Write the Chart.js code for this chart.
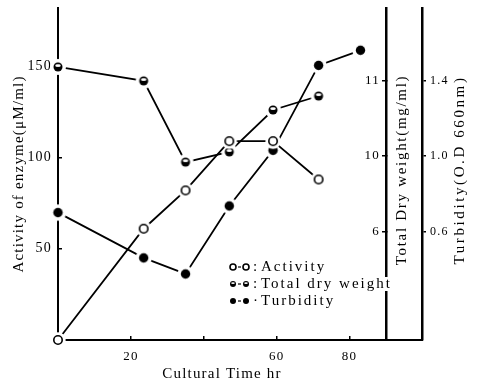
<!DOCTYPE html>
<html>
<head>
<meta charset="utf-8">
<script src="https://cdn.jsdelivr.net/npm/chart.js@4.4.1/dist/chart.umd.min.js"></script>
<style>
  html, body { margin: 0; padding: 0; background: #fff; }
</style>
</head>
<body>
<canvas id="c" width="479" height="384"></canvas>
<script>
// cultural time (hr)
var timeHr = [0, 23.5, 35, 47, 59, 71.5];
var timeHrTurb = [0, 23.5, 35, 47, 59, 71.5, 83];

// activity of enzyme (uM/ml)
var activity = [0, 61, 82, 109, 109, 88];
// total dry weight (mg/ml)
var dryWeight = [12.36, 11.99, 9.84, 10.11, 11.22, 11.59];
// turbidity (O.D 660nm)
var turbidity = [0.70, 0.46, 0.375, 0.735, 1.03, 1.48, 1.56];

var xTicks = [20, 40, 60, 80];
var xTickLabels = ["20", "", "60", "80"];
var enzymeTicks = [50, 100, 150];
var dryTicks = [8, 10, 12];
var dryTickLabels = ["6", "10", "11"];
var turbTicks = [0.6, 1.0, 1.4];
var turbTickLabels = ["0.6", "1.0", "1.4"];

var seriesNames = ["Activity", "Total dry weight", "Turbidity"];

var SERIF = "'Liberation Serif', 'DejaVu Serif', serif";

// marker drawn on a small canvas: white halo so lines stop short of the point
function makeMarker(kind, r, halo) {
    var size = Math.ceil((r + halo) * 2 + 2);
    var c = document.createElement('canvas');
    c.width = size; c.height = size;
    var g = c.getContext('2d');
    var m = size / 2;
    if (halo > 0) {
        g.fillStyle = '#fff';
        g.beginPath(); g.arc(m, m, r + halo, 0, Math.PI * 2); g.fill();
    }
    g.beginPath(); g.arc(m, m, r, 0, Math.PI * 2);
    if (kind === 'open') {
        g.fillStyle = '#fff'; g.fill();
        g.lineWidth = 1.6; g.strokeStyle = '#000'; g.stroke();
    } else {
        g.fillStyle = '#000'; g.fill();
        if (kind === 'half') {
            g.fillStyle = '#fff';
            g.beginPath(); g.ellipse(m, m - r * 0.3, r * 0.62, r * 0.32, 0, 0, Math.PI * 2); g.fill();
        }
    }
    return c;
}

function pts(xs, ys) {
    return xs.map(function (x, i) { return { x: x, y: ys[i] }; });
}

function onlyTicks(list) {
    return function (scale) {
        scale.ticks = list.map(function (v) { return { value: v }; });
    };
}

function labelFrom(values, labels) {
    return function (value) {
        var i = values.indexOf(value);
        return i < 0 ? "" : labels[i];
    };
}

function fixWidth(w) {
    return function (s) { s.width = w; s.paddingTop = 0; s.paddingBottom = 0; };
}

// vertical text reading bottom to top
function vText(ctx, txt, x, y, size, spacing) {
    ctx.save();
    ctx.fillStyle = '#000';
    ctx.textAlign = 'center';
    ctx.textBaseline = 'middle';
    ctx.font = size + "px " + SERIF;
    ctx.letterSpacing = spacing + "px";
    ctx.translate(x, y);
    ctx.rotate(-Math.PI / 2);
    ctx.fillText(txt, 0, 0);
    ctx.restore();
}

// scanned lettering is widely spaced
var spacingPlugin = {
    id: 'spacing',
    beforeDraw: function (chart) { chart.ctx.letterSpacing = '1.2px'; }
};

// right-hand titles, the bottom line under the right axes, and the legend
var extrasPlugin = {
    id: 'extras',
    afterDraw: function (chart) {
        var ctx = chart.ctx;
        var area = chart.chartArea;
        var turb = chart.scales.yTurb;
        var dry = chart.scales.yDry;
        var midY = (area.top + area.bottom) / 2 - 4;

        ctx.save();
        ctx.strokeStyle = '#000';
        ctx.lineWidth = 2;
        ctx.beginPath();
        ctx.moveTo(area.right, area.bottom);
        ctx.lineTo(turb.left + 1, area.bottom);
        ctx.stroke();
        ctx.restore();

        vText(ctx, "Total Dry weight(mg/ml)", dry.left + 16, midY, 15, 1.7);
        vText(ctx, "Turbidity(O.D 660nm)", turb.left + 38, midY, 15, 2.6);

        // legend
        var kinds = ['open', 'half', 'filled'];
        var seps = [':', ':', '·'];
        var lx = 233, ly = 267, step = 17;
        ctx.save();
        ctx.font = "15px " + SERIF;
        ctx.letterSpacing = "2px";
        ctx.textBaseline = 'middle';
        ctx.textAlign = 'left';
        kinds.forEach(function (k, i) {
            var y = ly + i * step;
            var w = ctx.measureText(seriesNames[i]).width;
            ctx.fillStyle = '#fff';
            ctx.fillRect(lx + 27, y - 7, w, 14);
            var mk = makeMarker(k, 3, 0);
            ctx.drawImage(mk, lx - mk.width / 2, y - mk.height / 2);
            ctx.drawImage(mk, lx + 13 - mk.width / 2, y - mk.height / 2);
            ctx.strokeStyle = '#000';
            ctx.lineWidth = 1.2;
            ctx.beginPath(); ctx.moveTo(lx + 5, y); ctx.lineTo(lx + 8, y); ctx.stroke();
            ctx.fillStyle = '#000';
            ctx.fillText(seps[i], lx + 20, y);
            ctx.fillText(seriesNames[i], lx + 28, y);
        });
        ctx.restore();
    }
};

var lineStyle = {
    borderColor: '#000',
    borderWidth: 1.8,
    tension: 0,
    pointRadius: 4,
    clip: false
};

new Chart(document.getElementById('c'), {
    type: 'line',
    data: {
        datasets: [
            Object.assign({ label: seriesNames[0], data: pts(timeHr, activity), yAxisID: 'y',
                pointStyle: makeMarker('open', 4.2, 3.5) }, lineStyle),
            Object.assign({ label: seriesNames[1], data: pts(timeHr, dryWeight), yAxisID: 'yDry',
                pointStyle: makeMarker('half', 4.5, 3.5) }, lineStyle),
            Object.assign({ label: seriesNames[2], data: pts(timeHrTurb, turbidity), yAxisID: 'yTurb',
                pointStyle: makeMarker('filled', 4.7, 3.5) }, lineStyle)
        ]
    },
    options: {
        responsive: false,
        animation: false,
        devicePixelRatio: 1,
        layout: { padding: { top: 8, left: 0, right: 0, bottom: 0 } },
        plugins: {
            legend: { display: false },
            tooltip: { enabled: false }
        },
        scales: {
            x: {
                type: 'linear',
                position: 'bottom',
                min: 0,
                max: 90,
                afterFit: function (s) { s.height = 44; s.paddingLeft = 0; s.paddingRight = 0; },
                afterBuildTicks: onlyTicks(xTicks),
                ticks: {
                    autoSkip: false,
                    maxRotation: 0,
                    padding: 13,
                    color: '#000',
                    font: { family: SERIF, size: 13 },
                    callback: labelFrom(xTicks, xTickLabels)
                },
                grid: { drawOnChartArea: false, tickLength: -4, color: '#000', lineWidth: 1.5 },
                border: { color: '#000', width: 2 },
                title: {
                    display: true,
                    text: 'Cultural Time hr',
                    color: '#000',
                    font: { family: SERIF, size: 15 },
                    padding: { top: 0, bottom: 1 }
                }
            },
            y: {
                type: 'linear',
                position: 'left',
                min: 0,
                max: 182,
                afterFit: fixWidth(58),
                afterBuildTicks: onlyTicks(enzymeTicks),
                ticks: {
                    autoSkip: false,
                    padding: 10,
                    color: '#000',
                    font: { family: SERIF, size: 14 }
                },
                grid: { drawOnChartArea: false, tickLength: -4, color: '#000', lineWidth: 1.5 },
                border: { color: '#000', width: 2 },
                title: {
                    display: true,
                    text: 'Activity of enzyme(μM/ml)',
                    color: '#000',
                    font: { family: SERIF, size: 15 },
                    padding: { top: 10, bottom: 0 }
                }
            },
            yDry: {
                type: 'linear',
                position: 'right',
                min: 5.13,
                max: 13.92,
                afterFit: fixWidth(36),
                afterBuildTicks: onlyTicks(dryTicks),
                ticks: {
                    autoSkip: false,
                    mirror: true,
                    padding: -6,
                    color: '#000',
                    font: { family: SERIF, size: 13 },
                    callback: labelFrom(dryTicks, dryTickLabels)
                },
                grid: { drawOnChartArea: false, tickLength: -4, color: '#000', lineWidth: 1.5 },
                border: { color: '#000', width: 2.5 },
                title: { display: false }
            },
            yTurb: {
                type: 'linear',
                position: 'right',
                min: 0.025,
                max: 1.784,
                afterFit: fixWidth(57),
                afterBuildTicks: onlyTicks(turbTicks),
                ticks: {
                    autoSkip: false,
                    padding: 4,
                    color: '#000',
                    font: { family: SERIF, size: 12 },
                    callback: labelFrom(turbTicks, turbTickLabels)
                },
                grid: { drawOnChartArea: false, tickLength: 4, color: '#000', lineWidth: 1.5 },
                border: { color: '#000', width: 2.5 },
                title: { display: false }
            }
        }
    },
    plugins: [spacingPlugin, extrasPlugin]
});
</script>
</body>
</html>
